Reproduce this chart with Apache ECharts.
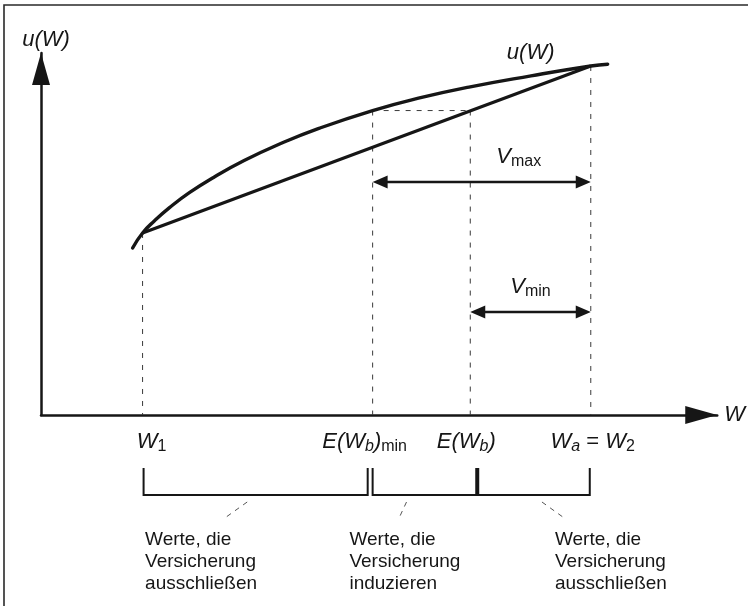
<!DOCTYPE html>
<html>
<head>
<meta charset="utf-8">
<script src="https://cdn.jsdelivr.net/npm/echarts@6/dist/echarts.min.js"></script>
<style>
html,body{margin:0;padding:0;background:#fff;}
#c{width:748px;height:606px;}
</style>
</head>
<body>
<div id="c"></div>
<script>
// ---------------- data (W on the x axis, u(W) on the y axis) ----------------
const curveW = [13.55, 15.02, 16.79, 19.00, 21.94, 25.63, 30.04, 35.20, 41.09, 49.04, 55.82, 63.48, 72.46, 81.30, 83.80];
const curveU = [46.13, 50.28, 53.65, 57.27, 61.41, 65.77, 70.28, 74.78, 79.17, 84.10, 87.51, 90.66, 93.70, 96.41, 96.91];

const chordW = [15.02, 81.30];          // W1 .. W2
const chordU = [50.28, 96.41];

const keyW = [15.02, 49.04, 63.48, 81.30];   // W1, E(Wb)min, E(Wb), Wa = W2
const keyU = [50.28, 84.10, 84.10, 96.41];   // top of the dashed guide lines
const certaintyW = [49.04, 63.48];            // dotted equal-utility line
const certaintyU = [84.10, 84.10];

const premiumNames = ['max', 'min'];
const premiumFrom = [49.04, 63.48];
const premiumTo = [81.30, 81.30];
const premiumU = [64.36, 28.45];

const rangeFrom = [15.17, 49.04];   // brackets below the axis
const rangeTo = [48.31, 81.15];
const rangeMarkW = [64.51];         // thick divider at E(Wb)
const groupW = [15.39, 45.61, 76.00];
const leaderFromW = [30.49, 54.05, 74.08];
const leaderToW = [27.39, 53.02, 77.17];
const groupLines = [
  ['Werte, die', 'Versicherung', 'ausschließen'],
  ['Werte, die', 'Versicherung', 'induzieren'],
  ['Werte, die', 'Versicherung', 'ausschließen']
];
const tickTexts = ['{i|W}{s|1}', '{i|E(W}{si|b}{i|)}{s|min}', '{i|E(W}{si|b}{i|)}', '{i|W}{si|a}{n| = }{i|W}{s|2}'];
const tickShift = [9, -8, -4, 2];

// ---------------- rendering ----------------
const INK = '#161616';
const FF = '"Liberation Sans", Arial, Helvetica, sans-serif';
const rich = {
  i: {font: 'italic 22px ' + FF, fill: INK, lineHeight: 26},
  n: {font: '22px ' + FF, fill: INK, lineHeight: 26},
  s: {font: '16px ' + FF, fill: INK, lineHeight: 16, verticalAlign: 'bottom'},
  si: {font: 'italic 16px ' + FF, fill: INK, lineHeight: 16, verticalAlign: 'bottom'}
};

function arrowHead(tip, dx, len, wid) {
  return {type: 'polygon', shape: {points: [
    [tip[0], tip[1]], [tip[0] - dx * len, tip[1] - wid / 2], [tip[0] - dx * len, tip[1] + wid / 2]
  ]}, style: {fill: INK}};
}

const chart = echarts.init(document.getElementById('c'), null, {renderer: 'canvas'});

const axisCommon = {
  type: 'value', min: 0, max: 100,
  axisTick: {show: false}, axisLabel: {show: false}, splitLine: {show: false},
  axisLine: {show: true, onZero: false, symbol: ['none', 'triangle'], symbolSize: [18, 32], symbolOffset: [0, -16],
    lineStyle: {color: INK, width: 2.5}},
  nameLocation: 'end'
};

const option = {
  animation: false,
  backgroundColor: '#ffffff',
  grid: {left: 41, right: 28, top: 53, bottom: 191},
  xAxis: Object.assign({}, axisCommon, {
    name: 'W', nameGap: 7,
    nameTextStyle: {fontFamily: FF, fontStyle: 'italic', fontSize: 22, color: INK}
  }),
  yAxis: Object.assign({}, axisCommon, {
    name: 'u(W)', nameGap: 2,
    nameTextStyle: {fontFamily: FF, fontStyle: 'italic', fontSize: 22, color: INK, padding: [0, 0, 0, 10]}
  }),
  graphic: [{
    type: 'polyline', silent: true,
    shape: {points: [[4, 620], [4, 5], [750, 5]]},
    style: {stroke: '#2a2a2a', lineWidth: 1.6, fill: null}
  }],
  series: [
    {
      type: 'custom', silent: true,
      data: keyW.map((w, i) => [w, keyU[i]]),
      renderItem: function (params, api) {
        const top = api.coord([api.value(0), api.value(1)]);
        const bot = api.coord([api.value(0), 0]);
        return {type: 'line', shape: {x1: top[0], y1: top[1], x2: bot[0], y2: bot[1]},
          style: {stroke: '#3a3a3a', lineWidth: 1, lineDash: [5, 7]}};
      }
    },
    {
      type: 'line', silent: true, symbol: 'none',
      data: certaintyW.map((w, i) => [w, certaintyU[i]]),
      lineStyle: {color: '#3a3a3a', width: 1, type: [5, 6]}
    },
    {
      type: 'line', silent: true, symbol: 'none',
      data: chordW.map((w, i) => [w, chordU[i]]),
      lineStyle: {color: INK, width: 3.2}
    },
    {
      type: 'line', silent: true, symbol: 'none', smooth: 0.5,
      data: curveW.map((w, i) => [w, curveU[i]]),
      lineStyle: {color: INK, width: 3.4, cap: 'round', join: 'round'}
    },
    {
      type: 'custom', silent: true,
      data: [[curveW[curveW.length - 1], curveU[curveU.length - 1]]],
      renderItem: function (params, api) {
        const p = api.coord([api.value(0), api.value(1)]);
        return {type: 'text', x: p[0] - 77, y: p[1] - 11,
          style: {text: '{i|u(W)}', rich: rich, align: 'center', verticalAlign: 'middle'}};
      }
    },
    {
      type: 'custom', silent: true,
      data: premiumFrom.map((w, i) => [w, premiumTo[i], premiumU[i]]),
      renderItem: function (params, api) {
        const a = api.coord([api.value(0), api.value(2)]);
        const b = api.coord([api.value(1), api.value(2)]);
        const idx = params.dataIndex;
        const labelX = idx === 0 ? (a[0] + b[0]) / 2 + 37 : (a[0] + b[0]) / 2;
        return {type: 'group', children: [
          {type: 'line', shape: {x1: a[0] + 8, y1: a[1], x2: b[0] - 8, y2: b[1]}, style: {stroke: INK, lineWidth: 2.6}},
          arrowHead(a, -1, 15, 13),
          arrowHead(b, 1, 15, 13),
          {type: 'text', x: labelX, y: a[1] - 25,
            style: {text: '{i|V}{s|' + premiumNames[idx] + '}', rich: rich, align: 'center', verticalAlign: 'middle'}}
        ]};
      }
    },
    {
      type: 'custom', silent: true,
      data: keyW.map((w) => [w, 0]),
      renderItem: function (params, api) {
        const p = api.coord([api.value(0), 0]);
        const i = params.dataIndex;
        return {type: 'text', x: p[0] + tickShift[i], y: p[1] + 27,
          style: {text: tickTexts[i], rich: rich, align: 'center', verticalAlign: 'middle'}};
      }
    },
    {
      type: 'custom', silent: true,
      data: rangeFrom.map((w, i) => [w, rangeTo[i]]),
      renderItem: function (params, api) {
        const a = api.coord([api.value(0), 0]);
        const b = api.coord([api.value(1), 0]);
        const y0 = a[1] + 53, y1 = a[1] + 80;
        return {type: 'polyline', shape: {points: [[a[0], y0], [a[0], y1], [b[0], y1], [b[0], y0]]},
          style: {stroke: INK, lineWidth: 2, fill: null}};
      }
    },
    {
      type: 'custom', silent: true,
      data: rangeMarkW.map((w) => [w, 0]),
      renderItem: function (params, api) {
        const a = api.coord([api.value(0), 0]);
        return {type: 'line', shape: {x1: a[0], y1: a[1] + 53, x2: a[0], y2: a[1] + 80},
          style: {stroke: INK, lineWidth: 4}};
      }
    },
    {
      type: 'custom', silent: true,
      data: groupW.map((w, i) => [w, leaderFromW[i], leaderToW[i]]),
      renderItem: function (params, api) {
        const t = api.coord([api.value(0), 0]);
        const l0 = api.coord([api.value(1), 0]);
        const l1 = api.coord([api.value(2), 0]);
        const lines = groupLines[params.dataIndex];
        return {type: 'group', children: [
          {type: 'line', shape: {x1: l0[0], y1: t[1] + 87, x2: l1[0], y2: t[1] + 102},
            style: {stroke: '#555', lineWidth: 1, lineDash: [5, 5]}},
          {type: 'text', x: t[0], y: t[1] + 114,
            style: {text: lines.join('\n'), font: '19px ' + FF, fill: INK, lineHeight: 22,
              align: 'left', verticalAlign: 'top'}}
        ]};
      }
    }
  ]
};
chart.setOption(option);
</script>
</body>
</html>
